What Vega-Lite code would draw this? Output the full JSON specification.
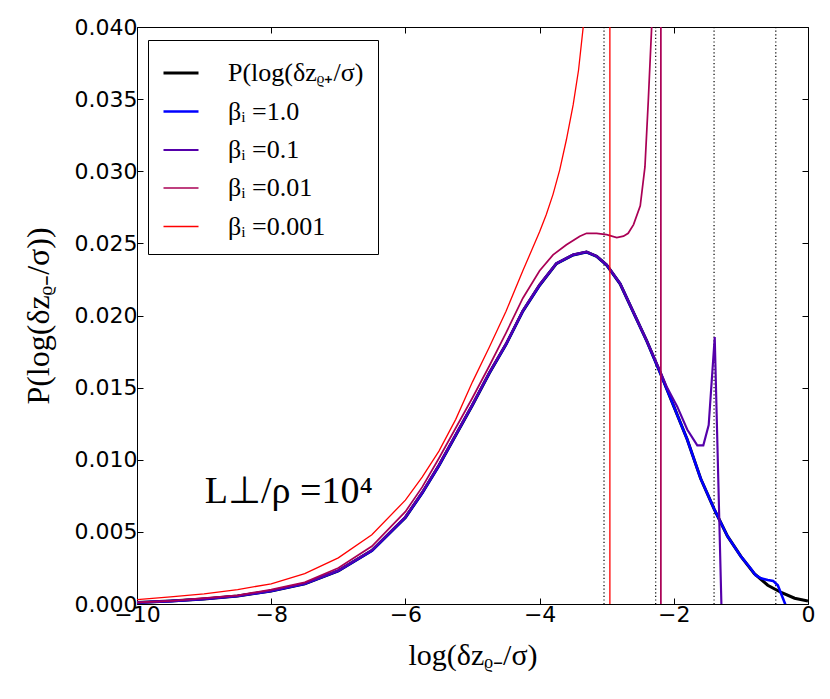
{
  "$schema": "https://vega.github.io/schema/vega-lite/v6.json",
  "width": 671,
  "height": 577,
  "autosize": "none",
  "padding": {"left": 137, "top": 27, "right": 22, "bottom": 95},
  "datasets": {
    "vlines": [{"x": -3.04}, {"x": -2.27}, {"x": -1.40}, {"x": -0.48}],
    "notes": [{"x": -8.99, "y": 0.0070, "label": "L⊥/ρ =10⁴"}],
    "curves": [
      {"s": "P", "x": -10, "y": 0.0001}, {"s": "P", "x": -9.5, "y": 0.0002}, {"s": "P", "x": -9, "y": 0.00035},
      {"s": "P", "x": -8.5, "y": 0.00055}, {"s": "P", "x": -8, "y": 0.0009}, {"s": "P", "x": -7.5, "y": 0.0014},
      {"s": "P", "x": -7, "y": 0.0023}, {"s": "P", "x": -6.5, "y": 0.0037}, {"s": "P", "x": -6, "y": 0.006},
      {"s": "P", "x": -5.75, "y": 0.0077}, {"s": "P", "x": -5.5, "y": 0.0096}, {"s": "P", "x": -5.25, "y": 0.0117},
      {"s": "P", "x": -5, "y": 0.0138}, {"s": "P", "x": -4.75, "y": 0.016}, {"s": "P", "x": -4.5, "y": 0.018},
      {"s": "P", "x": -4.25, "y": 0.0203}, {"s": "P", "x": -4, "y": 0.0221}, {"s": "P", "x": -3.75, "y": 0.0236},
      {"s": "P", "x": -3.5, "y": 0.0242}, {"s": "P", "x": -3.3, "y": 0.0244}, {"s": "P", "x": -3.15, "y": 0.0241},
      {"s": "P", "x": -3.0, "y": 0.0235}, {"s": "P", "x": -2.8, "y": 0.0222}, {"s": "P", "x": -2.6, "y": 0.0202},
      {"s": "P", "x": -2.4, "y": 0.0182}, {"s": "P", "x": -2.2, "y": 0.016}, {"s": "P", "x": -2.0, "y": 0.0137},
      {"s": "P", "x": -1.8, "y": 0.0114}, {"s": "P", "x": -1.6, "y": 0.0087}, {"s": "P", "x": -1.4, "y": 0.0066},
      {"s": "P", "x": -1.2, "y": 0.0047}, {"s": "P", "x": -1.0, "y": 0.0033}, {"s": "P", "x": -0.8, "y": 0.0021},
      {"s": "P", "x": -0.6, "y": 0.0013}, {"s": "P", "x": -0.4, "y": 0.0008}, {"s": "P", "x": -0.2, "y": 0.0004},
      {"s": "P", "x": 0, "y": 0.0002},

      {"s": "1.0", "x": -10, "y": 0.0001}, {"s": "1.0", "x": -9.5, "y": 0.0002}, {"s": "1.0", "x": -9, "y": 0.00035},
      {"s": "1.0", "x": -8.5, "y": 0.00055}, {"s": "1.0", "x": -8, "y": 0.0009}, {"s": "1.0", "x": -7.5, "y": 0.0014},
      {"s": "1.0", "x": -7, "y": 0.0023}, {"s": "1.0", "x": -6.5, "y": 0.0037}, {"s": "1.0", "x": -6, "y": 0.006},
      {"s": "1.0", "x": -5.75, "y": 0.0077}, {"s": "1.0", "x": -5.5, "y": 0.0096}, {"s": "1.0", "x": -5.25, "y": 0.0117},
      {"s": "1.0", "x": -5, "y": 0.0138}, {"s": "1.0", "x": -4.75, "y": 0.016}, {"s": "1.0", "x": -4.5, "y": 0.018},
      {"s": "1.0", "x": -4.25, "y": 0.0203}, {"s": "1.0", "x": -4, "y": 0.0221}, {"s": "1.0", "x": -3.75, "y": 0.0236},
      {"s": "1.0", "x": -3.5, "y": 0.0242}, {"s": "1.0", "x": -3.3, "y": 0.0244}, {"s": "1.0", "x": -3.15, "y": 0.0241},
      {"s": "1.0", "x": -3.0, "y": 0.0235}, {"s": "1.0", "x": -2.8, "y": 0.0222}, {"s": "1.0", "x": -2.6, "y": 0.0202},
      {"s": "1.0", "x": -2.4, "y": 0.0182}, {"s": "1.0", "x": -2.2, "y": 0.016}, {"s": "1.0", "x": -2.0, "y": 0.0137},
      {"s": "1.0", "x": -1.8, "y": 0.0114}, {"s": "1.0", "x": -1.6, "y": 0.0087}, {"s": "1.0", "x": -1.4, "y": 0.0066},
      {"s": "1.0", "x": -1.2, "y": 0.0047}, {"s": "1.0", "x": -1.0, "y": 0.0033}, {"s": "1.0", "x": -0.86, "y": 0.0025},
      {"s": "1.0", "x": -0.78, "y": 0.0020}, {"s": "1.0", "x": -0.7, "y": 0.00178}, {"s": "1.0", "x": -0.6, "y": 0.00166},
      {"s": "1.0", "x": -0.52, "y": 0.0016}, {"s": "1.0", "x": -0.45, "y": 0.0013}, {"s": "1.0", "x": -0.34, "y": 0.0},
      {"s": "1.0", "x": -0.3, "y": -0.001},

      {"s": "0.1", "x": -10, "y": 0.0001}, {"s": "0.1", "x": -9.5, "y": 0.0002}, {"s": "0.1", "x": -9, "y": 0.00036},
      {"s": "0.1", "x": -8.5, "y": 0.00056}, {"s": "0.1", "x": -8, "y": 0.00092}, {"s": "0.1", "x": -7.5, "y": 0.00142},
      {"s": "0.1", "x": -7, "y": 0.00232}, {"s": "0.1", "x": -6.5, "y": 0.00373}, {"s": "0.1", "x": -6, "y": 0.00605},
      {"s": "0.1", "x": -5.75, "y": 0.00775}, {"s": "0.1", "x": -5.5, "y": 0.00965}, {"s": "0.1", "x": -5.25, "y": 0.01175},
      {"s": "0.1", "x": -5, "y": 0.01385}, {"s": "0.1", "x": -4.75, "y": 0.01605}, {"s": "0.1", "x": -4.5, "y": 0.01805},
      {"s": "0.1", "x": -4.25, "y": 0.02035}, {"s": "0.1", "x": -4, "y": 0.02215}, {"s": "0.1", "x": -3.75, "y": 0.02362},
      {"s": "0.1", "x": -3.5, "y": 0.02422}, {"s": "0.1", "x": -3.3, "y": 0.02442}, {"s": "0.1", "x": -3.15, "y": 0.02412},
      {"s": "0.1", "x": -3.0, "y": 0.02352}, {"s": "0.1", "x": -2.8, "y": 0.02222}, {"s": "0.1", "x": -2.6, "y": 0.02022},
      {"s": "0.1", "x": -2.4, "y": 0.01822}, {"s": "0.1", "x": -2.2, "y": 0.0161}, {"s": "0.1", "x": -2.1, "y": 0.0150},
      {"s": "0.1", "x": -1.95, "y": 0.0137}, {"s": "0.1", "x": -1.8, "y": 0.0121}, {"s": "0.1", "x": -1.65, "y": 0.0110},
      {"s": "0.1", "x": -1.56, "y": 0.0110}, {"s": "0.1", "x": -1.48, "y": 0.0124}, {"s": "0.1", "x": -1.39, "y": 0.0185},
      {"s": "0.1", "x": -1.28, "y": -0.002},

      {"s": "0.01", "x": -10, "y": 0.00012}, {"s": "0.01", "x": -9.5, "y": 0.00022}, {"s": "0.01", "x": -9, "y": 0.0004},
      {"s": "0.01", "x": -8.5, "y": 0.0006}, {"s": "0.01", "x": -8, "y": 0.001}, {"s": "0.01", "x": -7.5, "y": 0.0015},
      {"s": "0.01", "x": -7, "y": 0.0025}, {"s": "0.01", "x": -6.5, "y": 0.004}, {"s": "0.01", "x": -6, "y": 0.0064},
      {"s": "0.01", "x": -5.75, "y": 0.0081}, {"s": "0.01", "x": -5.5, "y": 0.0101}, {"s": "0.01", "x": -5.25, "y": 0.0122},
      {"s": "0.01", "x": -5, "y": 0.0143}, {"s": "0.01", "x": -4.75, "y": 0.0165}, {"s": "0.01", "x": -4.5, "y": 0.0188},
      {"s": "0.01", "x": -4.25, "y": 0.0212}, {"s": "0.01", "x": -4, "y": 0.0231}, {"s": "0.01", "x": -3.8, "y": 0.0242},
      {"s": "0.01", "x": -3.6, "y": 0.0249}, {"s": "0.01", "x": -3.4, "y": 0.0255}, {"s": "0.01", "x": -3.3, "y": 0.0257},
      {"s": "0.01", "x": -3.15, "y": 0.0257}, {"s": "0.01", "x": -3.0, "y": 0.0256}, {"s": "0.01", "x": -2.85, "y": 0.0254},
      {"s": "0.01", "x": -2.75, "y": 0.0255}, {"s": "0.01", "x": -2.68, "y": 0.0257}, {"s": "0.01", "x": -2.6, "y": 0.0263},
      {"s": "0.01", "x": -2.5, "y": 0.0276}, {"s": "0.01", "x": -2.43, "y": 0.0303}, {"s": "0.01", "x": -2.38, "y": 0.0349},
      {"s": "0.01", "x": -2.33, "y": 0.040}, {"s": "0.01", "x": -2.28, "y": 0.06}, {"s": "0.01", "x": -2.24, "y": 0.15},
      {"s": "0.01", "x": -2.2, "y": 5}, {"s": "0.01", "x": -2.185, "y": -5},

      {"s": "0.001", "x": -10, "y": 0.0003}, {"s": "0.001", "x": -9.5, "y": 0.0005}, {"s": "0.001", "x": -9, "y": 0.0007},
      {"s": "0.001", "x": -8.5, "y": 0.001}, {"s": "0.001", "x": -8, "y": 0.0014}, {"s": "0.001", "x": -7.5, "y": 0.0021},
      {"s": "0.001", "x": -7, "y": 0.0032}, {"s": "0.001", "x": -6.5, "y": 0.0048}, {"s": "0.001", "x": -6, "y": 0.0072},
      {"s": "0.001", "x": -5.75, "y": 0.0088}, {"s": "0.001", "x": -5.5, "y": 0.0106}, {"s": "0.001", "x": -5.25, "y": 0.0128},
      {"s": "0.001", "x": -5, "y": 0.0154}, {"s": "0.001", "x": -4.75, "y": 0.0178}, {"s": "0.001", "x": -4.5, "y": 0.0203},
      {"s": "0.001", "x": -4.25, "y": 0.0231}, {"s": "0.001", "x": -4, "y": 0.0258}, {"s": "0.001", "x": -3.9, "y": 0.0270},
      {"s": "0.001", "x": -3.8, "y": 0.0284}, {"s": "0.001", "x": -3.7, "y": 0.0301}, {"s": "0.001", "x": -3.6, "y": 0.0322},
      {"s": "0.001", "x": -3.5, "y": 0.0346}, {"s": "0.001", "x": -3.42, "y": 0.0370}, {"s": "0.001", "x": -3.35, "y": 0.040},
      {"s": "0.001", "x": -3.3, "y": 0.046},
      {"s": "0.001", "x": -3.2, "y": 0.07}, {"s": "0.001", "x": -3.1, "y": 0.12}, {"s": "0.001", "x": -3.0, "y": 0.3},
      {"s": "0.001", "x": -2.96, "y": 5}, {"s": "0.001", "x": -2.945, "y": -5}
    ]
  },
  "layer": [
    {
      "data": {"name": "vlines"},
      "mark": {"type": "rule", "color": "black", "strokeWidth": 1.2, "strokeDash": [1.2, 2.4]},
      "encoding": {
        "x": {
          "field": "x", "type": "quantitative",
          "scale": {"domain": [-10, 0], "nice": false},
          "axis": {"orient": "top", "labels": false, "title": null, "domain": false, "grid": false,
                   "values": [-10, -8, -6, -4, -2, 0], "tickSize": -6, "tickColor": "black"}
        }
      }
    },
    {
      "data": {"name": "curves"},
      "transform": [{"filter": "datum.s === 'P'"}],
      "mark": {"type": "line", "clip": true},
      "encoding": {
        "x": {
          "field": "x", "type": "quantitative",
          "scale": {"domain": [-10, 0], "nice": false},
          "axis": {"orient": "bottom", "title": "log(δzᵨ₋/σ)", "values": [-10, -8, -6, -4, -2, 0],
                   "domain": false, "grid": false, "tickSize": -6, "tickColor": "black", "labelPadding": 6,
                   "labelFlush": false, "titleY": 36}
        },
        "y": {
          "field": "y", "type": "quantitative",
          "scale": {"domain": [0, 0.04], "nice": false, "zero": false},
          "axis": {"orient": "left", "title": "P(log(δzᵨ₋/σ))", "format": ".3f",
                   "values": [0, 0.005, 0.01, 0.015, 0.02, 0.025, 0.03, 0.035, 0.04],
                   "domain": false, "grid": false, "tickSize": -6, "tickColor": "black", "labelPadding": 6,
                   "labelFlush": false, "titleX": -82, "titleFontSize": 32}
        },
        "color": {
          "field": "s", "type": "nominal",
          "scale": {"domain": ["P", "1.0", "0.1", "0.01", "0.001"],
                    "range": ["#000000", "#0000ff", "#5500aa", "#aa0055", "#ff0000"]},
          "legend": {
            "title": null, "orient": "none", "legendX": 11, "legendY": 13,
            "strokeColor": "black", "fillColor": "white", "padding": 14,
            "symbolType": "stroke", "symbolSize": 1225, "labelOffset": 28, "rowPadding": 6.5,
            "labelFont": "Liberation Serif", "labelFontSize": 26, "labelColor": "black",
            "labelExpr": "datum.label === 'P' ? 'P(log(δzᵨ₊/σ)' : 'βᵢ =' + datum.label"
          }
        },
        "strokeWidth": {
          "field": "s", "type": "nominal",
          "scale": {"domain": ["P", "1.0", "0.1", "0.01", "0.001"], "range": [3, 1.3, 1.3, 1.3, 1.3]},
          "legend": {
            "title": null, "orient": "none", "legendX": 11, "legendY": 13,
            "strokeColor": "black", "fillColor": "white", "padding": 14,
            "symbolType": "stroke", "symbolSize": 1225, "labelOffset": 28, "rowPadding": 6.5,
            "labelFont": "Liberation Serif", "labelFontSize": 26, "labelColor": "black",
            "labelExpr": "datum.label === 'P' ? 'P(log(δzᵨ₊/σ)' : 'βᵢ =' + datum.label"
          }
        }
      }
    },
    {
      "data": {"name": "curves"},
      "transform": [{"filter": "datum.s !== 'P'"}],
      "mark": {"type": "line", "clip": true},
      "encoding": {
        "x": {"field": "x", "type": "quantitative", "scale": {"domain": [-10, 0], "nice": false}, "axis": null},
        "y": {"field": "y", "type": "quantitative", "scale": {"domain": [0, 0.04], "nice": false, "zero": false}, "axis": null},
        "color": {
          "field": "s", "type": "nominal",
          "scale": {"domain": ["P", "1.0", "0.1", "0.01", "0.001"],
                    "range": ["#000000", "#0000ff", "#5500aa", "#aa0055", "#ff0000"]}
        },
        "strokeWidth": {
          "field": "s", "type": "nominal",
          "scale": {"domain": ["P", "1.0", "0.1", "0.01", "0.001"], "range": [3, 1.3, 1.3, 1.3, 1.3]}
        }
      }
    },
    {
      "data": {"name": "notes"},
      "mark": {"type": "text", "align": "left", "baseline": "alphabetic", "font": "Liberation Serif", "fontSize": 38, "color": "black"},
      "encoding": {
        "x": {"field": "x", "type": "quantitative", "scale": {"domain": [-10, 0], "nice": false}, "axis": null},
        "y": {
          "field": "y", "type": "quantitative",
          "scale": {"domain": [0, 0.04], "nice": false, "zero": false},
          "axis": {"orient": "right", "labels": false, "title": null, "domain": false, "grid": false,
                   "values": [0, 0.005, 0.01, 0.015, 0.02, 0.025, 0.03, 0.035, 0.04], "tickSize": -6, "tickColor": "black"}
        },
        "text": {"field": "label"}
      }
    }
  ],
  "resolve": {"axis": {"x": "independent", "y": "independent"}},
  "config": {
    "view": {"stroke": "black", "strokeWidth": 1},
    "axis": {
      "labelFont": "DejaVu Sans", "labelFontSize": 22, "labelColor": "black",
      "titleFont": "Liberation Serif", "titleFontSize": 30, "titleFontWeight": "normal", "titleColor": "black"
    }
  }
}
